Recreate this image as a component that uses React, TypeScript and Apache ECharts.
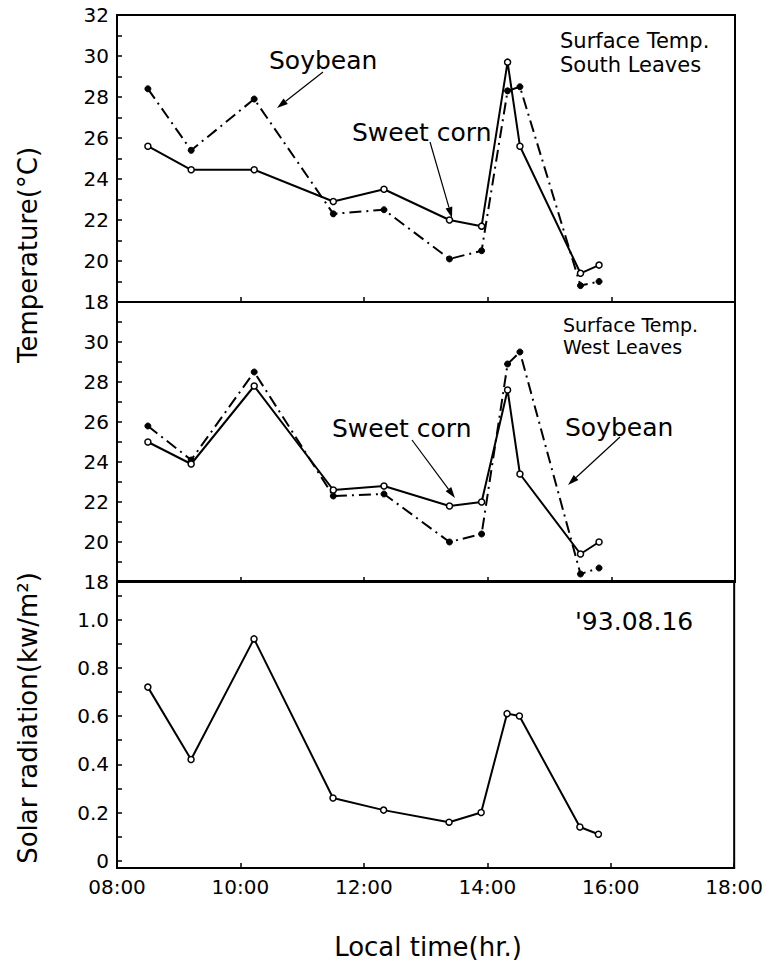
import React, { useEffect, useRef } from "react";
import * as echarts from "echarts";

// Local time (hours) of each measurement
const times = [8.5, 9.2, 10.22, 11.5, 12.32, 13.38, 13.9, 14.32, 14.52, 15.5, 15.8];
// Surface temperature, south leaves (°C)
const southCorn = [25.6, 24.45, 24.45, 22.9, 23.5, 22.0, 21.7, 29.7, 25.6, 19.4, 19.8];
const southSoy = [28.4, 25.4, 27.9, 22.3, 22.5, 20.1, 20.5, 28.3, 28.5, 18.8, 19.0];
// Surface temperature, west leaves (°C)
const westCorn = [25.0, 23.9, 27.8, 22.6, 22.8, 21.8, 22.0, 27.6, 23.4, 19.4, 20.0];
const westSoy = [25.8, 24.1, 28.5, 22.3, 22.4, 20.0, 20.4, 28.9, 29.5, 18.4, 18.7];
// Solar radiation (kW/m2)
const solar = [0.72, 0.42, 0.92, 0.26, 0.21, 0.16, 0.2, 0.61, 0.6, 0.14, 0.11];

const solarLabelValues = [0, 0.2, 0.4, 0.6, 0.8, 1.0];
const solarTickValues = [0, 0.1, 0.2, 0.3, 0.4, 0.5, 0.6, 0.7, 0.8, 0.9, 1.0, 1.1];

const FONT = "DejaVu Sans";

function pairs(vals: number[]) {
  return times.map((t, i) => [t, vals[i]]);
}

function arrow(x1: number, y1: number, x2: number, y2: number) {
  const ang = Math.atan2(y2 - y1, x2 - x1);
  const L = 11;
  const W = 3.5;
  const bx = x2 - L * Math.cos(ang);
  const by = y2 - L * Math.sin(ang);
  const px = -Math.sin(ang) * W;
  const py = Math.cos(ang) * W;
  return [
    {
      type: "line",
      shape: { x1, y1, x2: bx, y2: by },
      style: { stroke: "#000", lineWidth: 1.2 },
    },
    {
      type: "polygon",
      shape: {
        points: [
          [x2, y2],
          [bx + px, by + py],
          [bx - px, by - py],
        ],
      },
      style: { fill: "#000" },
    },
  ];
}

function txt(text: string, x: number, y: number, size: number, extra: any = {}) {
  const { align, lineHeight, ...rest } = extra;
  return {
    type: "text",
    x,
    y,
    ...rest,
    style: {
      text,
      fontSize: size,
      fontFamily: FONT,
      fill: "#000",
      align: align || "left",
      verticalAlign: "middle",
      ...(lineHeight ? { lineHeight } : {}),
    },
  };
}

export default function App() {
  const ref = useRef<HTMLDivElement>(null);
  useEffect(() => {
    if (!ref.current) return;
    const chart = echarts.init(ref.current, undefined, { renderer: "svg" });
    const gridBase = {
      left: 117,
      right: 31,
      show: true,
      borderColor: "#000",
      borderWidth: 2,
      backgroundColor: "transparent",
    };
    const axisLine = { show: true, onZero: false, lineStyle: { color: "#000", width: 2 } };
    const tick = { show: true, inside: true, length: 5, lineStyle: { color: "#000", width: 1.5 } };
    const labelStyle = { color: "#000", fontFamily: FONT, fontSize: 20 };

    const xAxes = [0, 1, 2].map((i) => ({
      type: "value",
      gridIndex: i,
      min: 8,
      max: 18,
      interval: 2,
      axisLine,
      axisTick: tick,
      splitLine: { show: false },
      axisLabel: {
        show: i === 2,
        ...labelStyle,
        margin: 9,
        formatter: (v: number) => (v < 10 ? "0" : "") + v + ":00",
      },
    }));

    const tempAxis = (i: number, hideTop: boolean) => ({
      type: "value",
      gridIndex: i,
      min: 18,
      max: 32,
      interval: 1,
      axisLine,
      axisTick: tick,
      splitLine: { show: false },
      axisLabel: {
        ...labelStyle,
        margin: 8,
        formatter: (v: number) => {
          if (v % 2 !== 0) return "";
          if (hideTop && v === 32) return "";
          return String(v);
        },
      },
    });

    const lineCorn = (xi: number, vals: number[]) => ({
      type: "line",
      xAxisIndex: xi,
      yAxisIndex: xi,
      data: pairs(vals),
      symbol: "circle",
      symbolSize: 6,
      itemStyle: { color: "#fff", borderColor: "#000", borderWidth: 1.5 },
      lineStyle: { color: "#000", width: 2 },
      z: 3,
    });
    const lineSoy = (xi: number, vals: number[]) => ({
      type: "line",
      xAxisIndex: xi,
      yAxisIndex: xi,
      data: pairs(vals),
      symbol: "circle",
      symbolSize: 6,
      itemStyle: { color: "#000", borderColor: "#000", borderWidth: 1 },
      lineStyle: { color: "#000", width: 2, type: [12, 5, 2, 5] },
      z: 2,
    });

    const option: any = {
      animation: false,
      backgroundColor: "#fff",
      grid: [
        { ...gridBase, top: 15, height: 287 },
        { ...gridBase, top: 302, height: 280 },
        { ...gridBase, top: 581, height: 287 },
      ],
      xAxis: xAxes,
      yAxis: [
        tempAxis(0, false),
        tempAxis(1, true),
        {
          type: "value",
          gridIndex: 2,
          min: -0.03,
          max: 1.16,
          axisLine,
          axisTick: { ...tick, customValues: solarTickValues },
          splitLine: { show: false },
          axisLabel: {
            ...labelStyle,
            margin: 8,
            customValues: solarLabelValues,
            formatter: (v: number) => (Math.abs(v) < 1e-9 ? "0" : v.toFixed(1)),
          },
        },
      ],
      series: [
        lineSoy(0, southSoy),
        lineCorn(0, southCorn),
        lineSoy(1, westSoy),
        lineCorn(1, westCorn),
        lineCorn(2, solar),
      ],
      graphic: [
        txt("Soybean", 269, 60, 25),
        txt("Sweet corn", 352, 132, 25),
        txt("Surface Temp.\nSouth Leaves", 560, 53, 21, { lineHeight: 24 }),
        ...arrow(323, 72, 277, 108),
        ...arrow(430, 142, 452, 218),
        txt("Surface Temp.\nWest Leaves", 563, 336, 19, { lineHeight: 22 }),
        txt("Sweet corn", 332, 428, 25),
        txt("Soybean", 565, 427, 25),
        ...arrow(412, 440, 455, 498),
        ...arrow(620, 437, 568, 485),
        txt("'93.08.16", 575, 621, 25),
        txt("Local time(hr.)", 428, 947, 26, { align: "center" }),
        txt("Temperature(°C)", 28, 255, 26, { align: "center", rotation: Math.PI / 2 }),
        txt("Solar radiation(kw/m²)", 28, 718, 26, { align: "center", rotation: Math.PI / 2 }),
      ],
    };
    chart.setOption(option);
    return () => chart.dispose();
  }, []);
  return (
    <div
      ref={ref}
      style={{ position: "absolute", left: 0, top: 0, width: 766, height: 970, background: "#fff" }}
    />
  );
}
